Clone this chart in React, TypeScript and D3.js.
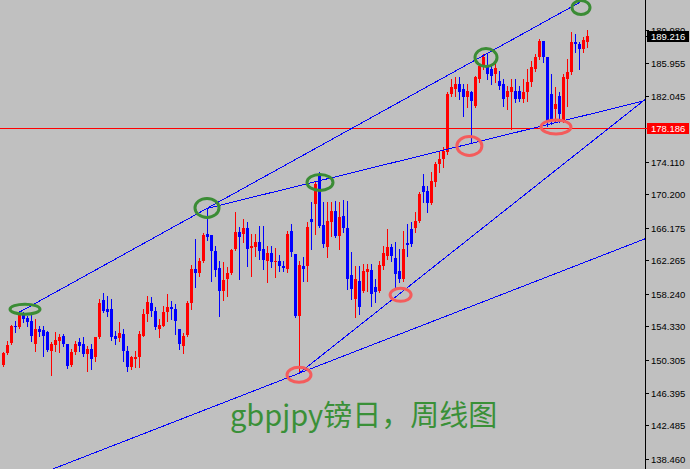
import React from 'react';
import * as d3 from 'd3';

const W = 690;
const H = 469;
const PLOT_RIGHT = 645;

// weekly GBPJPY bars, oldest first
const opens = [
  149.66, 151.10, 152.30, 154.34, 154.22, 155.78, 155.30, 154.94, 152.18, 153.98,
  153.86, 153.62, 151.34, 152.06, 152.54, 153.14, 152.18, 149.66, 151.22, 152.42,
  152.18, 150.98, 151.58, 150.62, 153.02, 157.46, 156.38, 156.38, 153.14, 152.90,
  153.38, 151.34, 149.42, 150.38, 150.62, 153.14, 155.78, 157.10, 156.14, 153.98,
  154.34, 156.02, 156.62, 156.38, 153.98, 151.94, 153.26, 157.10, 161.18, 160.70,
  162.14, 165.38, 165.26, 163.34, 161.30, 158.54, 159.98, 160.70, 163.58, 165.62,
  165.38, 166.10, 163.70, 163.82, 164.42, 163.58, 162.14, 163.10, 162.02, 162.14,
  161.54, 161.18, 165.74, 162.98, 155.54, 161.54, 161.54, 167.18, 168.98, 172.34,
  166.46, 163.82, 166.82, 168.14, 165.14, 167.54, 166.10, 160.46, 157.58, 159.74,
  158.54, 160.82, 161.06, 159.02, 158.54, 161.54, 162.74, 163.82, 162.50, 160.94,
  159.98, 164.30, 165.98, 166.10, 166.94, 171.14, 170.54, 169.10, 171.62, 173.78,
  174.38, 175.22, 182.18, 182.78, 183.38, 182.78, 181.82, 182.42, 180.74, 183.98,
  185.42, 185.54, 185.18, 184.58, 183.74, 183.38, 181.82, 182.42, 182.54, 182.54,
  181.58, 182.42, 183.62, 185.18, 186.62, 188.54, 186.62, 182.18, 180.38, 181.94,
  178.94, 183.98, 184.82, 188.42, 188.18, 187.58, 188.42,
];
const highs = [
  151.22, 152.54, 154.46, 154.94, 156.02, 156.02, 155.54, 155.78, 155.18, 154.34,
  154.34, 153.74, 152.42, 153.62, 153.38, 153.38, 152.18, 151.58, 152.54, 152.90,
  153.02, 151.94, 152.18, 153.02, 157.58, 158.30, 157.94, 157.58, 153.74, 154.82,
  153.98, 151.94, 150.74, 151.34, 153.74, 156.38, 157.94, 157.82, 156.62, 155.18,
  156.74, 158.18, 157.34, 156.98, 153.98, 153.50, 157.34, 161.66, 164.78, 162.50,
  165.50, 168.50, 165.26, 163.94, 162.14, 162.02, 161.42, 163.58, 168.02, 166.22,
  167.18, 166.82, 165.38, 165.38, 166.34, 166.34, 163.94, 163.94, 163.70, 162.86,
  162.14, 165.74, 166.58, 162.98, 162.14, 162.62, 166.82, 169.22, 171.62, 172.82,
  169.22, 169.22, 169.22, 169.34, 169.22, 169.46, 169.34, 163.22, 161.54, 161.54,
  161.78, 161.78, 161.78, 159.98, 162.14, 163.94, 165.98, 164.18, 164.42, 163.58,
  165.74, 166.58, 166.82, 168.02, 170.42, 172.58, 171.14, 172.82, 174.02, 175.22,
  175.82, 182.42, 183.98, 184.22, 184.22, 183.38, 183.38, 182.54, 184.34, 185.78,
  186.98, 186.98, 185.78, 186.02, 184.94, 183.98, 183.14, 183.98, 183.98, 183.14,
  183.98, 185.18, 186.14, 186.98, 188.78, 188.54, 186.62, 184.58, 183.02, 182.42,
  184.58, 186.38, 189.62, 189.38, 188.42, 189.02, 189.98,
];
const lows = [
  149.54, 150.98, 152.18, 153.62, 154.10, 154.82, 154.34, 152.54, 151.34, 153.14,
  150.74, 151.34, 148.46, 151.34, 151.22, 151.94, 149.30, 149.54, 150.98, 151.34,
  150.74, 148.94, 149.18, 150.14, 152.90, 156.02, 155.54, 152.66, 152.18, 152.54,
  150.14, 148.94, 149.18, 149.42, 149.42, 153.14, 154.94, 155.54, 153.98, 153.02,
  154.34, 154.94, 155.18, 153.38, 151.58, 151.10, 153.14, 156.38, 159.02, 160.34,
  162.02, 164.66, 159.74, 160.34, 155.54, 157.46, 157.94, 160.58, 163.46, 159.98,
  164.42, 161.54, 160.34, 162.74, 162.38, 161.18, 159.62, 161.42, 160.22, 160.94,
  160.94, 160.82, 162.74, 155.42, 148.82, 159.74, 159.74, 163.58, 165.38, 166.22,
  163.82, 162.62, 165.14, 165.02, 163.58, 165.62, 158.78, 157.58, 155.42, 155.78,
  158.42, 158.54, 156.74, 157.22, 158.42, 161.18, 162.38, 162.14, 158.78, 159.62,
  159.74, 162.74, 163.94, 165.62, 166.82, 169.22, 168.02, 168.98, 171.14, 172.82,
  173.42, 174.98, 181.94, 181.94, 181.58, 179.54, 180.62, 176.42, 180.62, 183.62,
  185.18, 183.98, 183.38, 183.62, 182.78, 180.74, 180.38, 177.98, 181.22, 181.34,
  181.22, 181.34, 183.14, 184.94, 186.38, 186.02, 178.34, 178.58, 178.82, 178.82,
  178.82, 180.74, 184.58, 187.22, 185.18, 187.22, 187.82,
];
const closes = [
  151.10, 152.06, 154.34, 154.22, 155.90, 155.18, 154.82, 153.14, 153.98, 153.62,
  153.14, 151.46, 152.18, 152.66, 153.02, 152.18, 149.54, 151.22, 152.18, 151.94,
  150.98, 151.58, 150.38, 153.02, 157.10, 156.14, 156.02, 153.02, 152.78, 153.50,
  151.34, 149.42, 150.62, 150.62, 153.38, 155.78, 157.22, 156.14, 154.22, 154.46,
  156.02, 156.62, 156.38, 154.94, 152.18, 153.14, 157.10, 161.18, 160.70, 162.14,
  165.26, 165.02, 163.34, 161.06, 158.54, 159.86, 160.70, 163.46, 165.62, 165.02,
  166.10, 163.58, 163.94, 164.42, 163.34, 162.26, 163.10, 162.02, 162.14, 161.54,
  161.30, 165.38, 163.22, 155.54, 161.66, 161.18, 166.22, 166.82, 171.38, 166.34,
  164.18, 166.94, 168.14, 165.14, 167.42, 166.10, 159.98, 158.78, 159.98, 156.62,
  160.94, 161.18, 158.18, 158.42, 161.66, 163.10, 163.82, 162.74, 160.58, 159.98,
  163.58, 164.06, 164.18, 166.94, 170.18, 170.42, 169.10, 171.74, 173.78, 174.38,
  175.34, 182.18, 183.02, 183.38, 182.42, 181.82, 182.54, 181.34, 184.22, 185.54,
  186.62, 184.58, 184.34, 185.30, 183.14, 181.58, 182.54, 183.02, 181.58, 181.58,
  182.42, 183.62, 185.42, 186.62, 188.54, 186.62, 178.82, 178.94, 180.98, 179.78,
  184.22, 184.82, 188.42, 188.18, 187.58, 188.66, 189.22,
];

const tickValues = [
  189.980, 185.955, 182.045, 174.110, 170.200, 166.175, 162.265,
  158.240, 154.330, 150.305, 146.395, 142.485, 138.460,
];
const lastPrice = 189.216;
const levelPrice = 178.186;

// trend lines as [bar index, price] anchors; drawn as rays to the right
const trendLines = [
  { a: [4, 156.02], b: [51, 168.5], extendLeft: false },
  { a: [51, 168.5], b: [117, 176.3], extendLeft: false },
  { a: [74, 148.7], b: [149, 177.2], extendLeft: false },
  { a: [74, 148.7], b: [149, 162.7], extendLeft: true },
];

// highlighted swing points [bar index, price]
const greenMarks = [[5.5, 156.4], [51, 168.56], [79.25, 171.62], [120.75, 186.62], [144.5, 192.62]];
const redMarks = [[74, 148.52], [99.4, 158.12], [116.6, 176.0], [138.25, 178.28]];
const greenRadii = [[15, 5], [12, 9.5], [13, 8], [11, 9], [9, 7]];
const redRadii = [[12, 7.5], [10.5, 6.5], [12.5, 9.5], [15, 7]];

const title = 'gbpjpy镑日，周线图';

const BG = '#c0c0c0';
const UP = '#ff0000';
const DOWN = '#0000ff';

export default function App() {
  const x = d3.scaleLinear().domain([0, opens.length - 1]).range([3, 3 + 4 * (opens.length - 1)]);
  const y = d3.scaleLinear().domain([138.46, 189.98]).range([458.6, 29.5]);

  const bars = d3.range(opens.length).map(i => ({
    i, o: opens[i], h: highs[i], l: lows[i], c: closes[i],
  }));

  const rightIdx = x.invert(PLOT_RIGHT);
  const leftIdx = x.invert(0);

  const rays = trendLines.map(t => {
    const slope = (t.b[1] - t.a[1]) / (t.b[0] - t.a[0]);
    const at = (i: number) => t.a[1] + (i - t.a[0]) * slope;
    const i0 = t.extendLeft ? leftIdx : t.a[0];
    return { x1: x(i0), y1: y(at(i0)), x2: x(rightIdx), y2: y(at(rightIdx)) };
  });

  const font = '"Liberation Sans", Arial, sans-serif';

  return (
    <svg width={W} height={H} style={{ position: 'absolute', left: 0, top: 0, display: 'block' }}>
      <defs>
        <clipPath id="plot">
          <rect x={0} y={0} width={PLOT_RIGHT} height={H} />
        </clipPath>
        <filter id="soft" x="-20%" y="-20%" width="140%" height="140%">
          <feGaussianBlur stdDeviation={0.6} />
        </filter>
      </defs>
      <rect width={W} height={H} fill={BG} />

      <g clipPath="url(#plot)">
        {/* level line */}
        <line x1={0} x2={PLOT_RIGHT} y1={Math.round(y(levelPrice)) + 0.5} y2={Math.round(y(levelPrice)) + 0.5}
          stroke="#ff0000" strokeWidth={1} />

        {/* candles */}
        <g shapeRendering="crispEdges">
          {bars.map(d => {
            const cx = Math.round(x(d.i));
            const col = d.c >= d.o ? UP : DOWN;
            const top = Math.round(y(Math.max(d.o, d.c)));
            const bot = Math.round(y(Math.min(d.o, d.c)));
            return (
              <g key={d.i}>
                <line x1={cx + 0.5} x2={cx + 0.5} y1={Math.round(y(d.h))} y2={Math.round(y(d.l)) + 1} stroke={col} />
                <rect x={cx - 1} y={top} width={3} height={Math.max(1, bot - top)} fill={col} />
              </g>
            );
          })}
        </g>

        {/* trend lines */}
        <g shapeRendering="crispEdges">
          {rays.map((r, k) => (
            <line key={k} x1={r.x1} y1={r.y1} x2={r.x2} y2={r.y2} stroke="#0000ff" strokeWidth={1} />
          ))}
        </g>

        {/* markers */}
        <g filter="url(#soft)" fill="none" strokeWidth={3}>
          {greenMarks.map((m, k) => (
            <ellipse key={'g' + k} cx={x(m[0])} cy={y(m[1])} rx={greenRadii[k][0]} ry={greenRadii[k][1]}
              stroke="#3a8c34" />
          ))}
          {redMarks.map((m, k) => (
            <ellipse key={'r' + k} cx={x(m[0])} cy={y(m[1])} rx={redRadii[k][0]} ry={redRadii[k][1]}
              stroke="#f45c5c" />
          ))}
        </g>
      </g>

      {/* price axis */}
      <line x1={PLOT_RIGHT + 0.5} x2={PLOT_RIGHT + 0.5} y1={0} y2={H} stroke="#000" shapeRendering="crispEdges" />
      <g fontFamily={font} fontSize={9.5} fill="#000">
        {tickValues.map(v => {
          const ty = Math.round(y(v)) + 0.5;
          return (
            <g key={v}>
              <line x1={PLOT_RIGHT} x2={PLOT_RIGHT + 4} y1={ty} y2={ty} stroke="#000" shapeRendering="crispEdges" />
              <text x={651} y={ty} dy="0.35em">{v.toFixed(3)}</text>
            </g>
          );
        })}
      </g>

      {[{ v: lastPrice, bg: '#000' }, { v: levelPrice, bg: '#ff0000' }].map(b => {
        const by = Math.round(y(b.v));
        return (
          <g key={b.v}>
            <line x1={PLOT_RIGHT} x2={PLOT_RIGHT + 3} y1={by + 0.5} y2={by + 0.5} stroke={b.bg} shapeRendering="crispEdges" />
            <rect x={647} y={by - 5} width={42} height={11} fill={b.bg} shapeRendering="crispEdges" />
            <text x={651} y={by + 0.5} dy="0.35em" fontFamily={font} fontSize={9.5} fill="#fff">{b.v.toFixed(3)}</text>
          </g>
        );
      })}

      <text x={230} y={426} fontFamily='"Noto Sans CJK SC", "Noto Sans", sans-serif' fontSize={29} fill="#3a9038">
        {title}
      </text>
    </svg>
  );
}
